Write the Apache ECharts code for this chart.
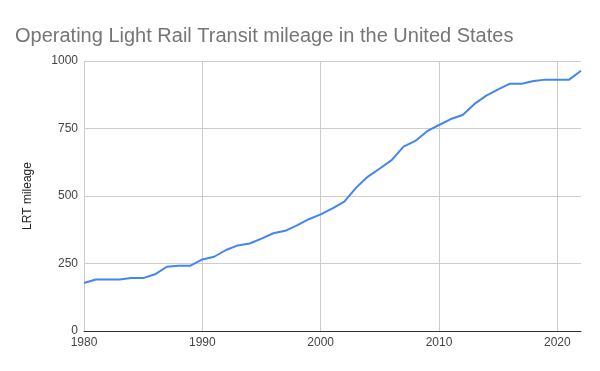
<!DOCTYPE html>
<html><head><meta charset="utf-8">
<script src="https://cdn.jsdelivr.net/npm/echarts@6/dist/echarts.min.js"></script>
<style>html,body{margin:0;padding:0;background:#fff}#c{width:600px;height:371px}</style>
</head><body><div id="c"></div>
<script>
const years = [1980,1981,1982,1983,1984,1985,1986,1987,1988,1989,1990,1991,1992,1993,1994,1995,1996,1997,1998,1999,2000,2001,2002,2003,2004,2005,2006,2007,2008,2009,2010,2011,2012,2013,2014,2015,2016,2017,2018,2019,2020,2021,2022];
const mileage = [178,191,191,191,196,196,210,238,242,242,265,275,300,317,324,342,362,371,391,414,432,454,479,531,572,602,633,683,704,740,763,785,800,841,872,895,916,916,926,931,931,931,964];
const xTicks = [1980,1990,2000,2010,2020];
const yTicks = [0,250,500,750,1000];
const chart = echarts.init(document.getElementById('c'));
chart.setOption({
  animation:false,
  textStyle:{fontFamily:'Arial, Liberation Sans, sans-serif'},
  title:{text:'Operating Light Rail Transit mileage in the United States',left:10,top:21,
    textStyle:{fontSize:20,fontWeight:'normal',color:'#757575',fontFamily:'Arial, Liberation Sans, sans-serif'}},
  grid:{left:84,right:19,top:61,bottom:40},
  xAxis:{type:'value',min:1980,max:2022,interval:10,
    axisLine:{show:true,lineStyle:{color:'#333',width:1}},
    axisTick:{show:false},
    axisLabel:{color:'#444',fontSize:12,showMaxLabel:false,margin:6,formatter:v=>xTicks.includes(v)?String(v):''},
    splitLine:{show:false}},
  yAxis:{type:'value',min:0,max:1000,interval:250,
    name:'LRT mileage',nameLocation:'middle',nameGap:50,
    nameTextStyle:{color:'#222',fontSize:12},
    axisLine:{show:false},axisTick:{show:false},
    axisLabel:{color:'#444',fontSize:12,margin:6,formatter:v=>yTicks.includes(v)?String(v):''},
    splitLine:{lineStyle:{color:'#ccc'}}},
  series:[{type:'line',data:years.map((y,i)=>[y,mileage[i]]),showSymbol:false,z:3,
    lineStyle:{color:'#4285F4',width:2},itemStyle:{color:'#4285F4'},
    markLine:{silent:true,symbol:'none',label:{show:false},animation:false,z:1,
      lineStyle:{color:'#ccc',width:1,type:'solid'},
      data:xTicks.map(v=>({xAxis:v}))}}]
});
</script></body></html>
